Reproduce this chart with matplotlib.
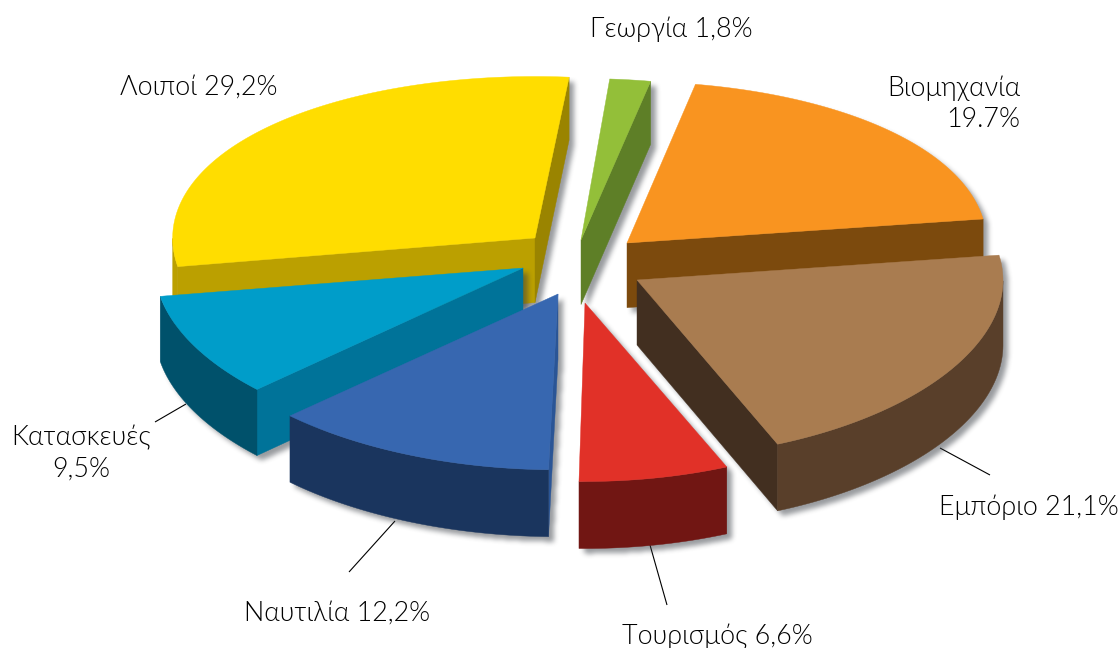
import matplotlib
matplotlib.use('Agg')
import matplotlib.pyplot as plt
from matplotlib.patches import Polygon
from matplotlib.path import Path
import numpy as np

plt.rcParams['font.family'] = ['Lato', 'Noto Sans', 'DejaVu Sans']

# order follows the pie clockwise, starting from the thin green slice
names = ['Γεωργία', 'Βιομηχανία', 'Εμπόριο', 'Τουρισμός', 'Ναυτιλία', 'Κατασκευές', 'Λοιποί']
values = [1.8, 19.7, 21.1, 6.6, 12.2, 9.5, 29.2]
label_texts = ['Γεωργία 1,8%', 'Βιομηχανία\n19.7%', 'Εμπόριο 21,1%', 'Τουρισμός 6,6%',
               'Ναυτιλία 12,2%', 'Κατασκευές\n9,5%', 'Λοιποί 29,2%']

top_colors = ['#93BF39', '#F99420', '#A97C50', '#E13128', '#3767B0', '#009DC9', '#FFDD00']
arc_colors = ['#5E7F27', '#7C4A0D', '#593F2A', '#711613', '#1A355E', '#00516B', '#BBA000']
# side colours of the cut faces: (start edge, end edge)
cut_colors = [('#5E7F27', '#5E7F27'), ('#7C4A0D', '#7C4A0D'), ('#593F2A', '#422F20'),
              ('#711613', '#711613'), ('#2A5596', '#1A355E'), ('#007399', '#00516B'),
              ('#BBA000', '#9A8400')]

# how far each slice is pulled out of the pie, in pixels
pull_x = [9, 55, 65, 13, -14, -49, -37]
pull_y = [-28, -25, 12, 35, 26, 0, -30]
# the picture is a bit off a pure projection, so slices differ slightly
slice_turn = [0, 0, -0.3, -0.5, 0, 1.0, 0.9]
slice_rx = [1, 0.983, 1, 1, 1.03, 1.005, 0.99]
slice_ry = [1, 1, 1, 1, 0.985, 1, 1]

draw_order = [6, 0, 1, 2, 5, 4, 3]

cx, cy = 572, 268
rx, ry = 366, 170
start_angle = 4.5

label_pos = [(671, 29, 'center'), (1020, 104, 'right'), (1029, 507, 'center'), (717, 636, 'center'),
             (337, 613, 'center'), (81, 453, 'center'), (199, 87, 'center')]
leaders = [((940, 448), (990, 475)), ((650, 545), (667, 605)),
           ((395, 521), (349, 572)), ((186, 404), (155, 422))]

W, H = 1120, 648
grid_x, grid_y = np.meshgrid(np.arange(W) + 0.5, np.arange(H) + 0.5)
grid = np.column_stack([grid_x.ravel(), grid_y.ravel()])


def thick(y):
    return 63 + 0.01 * (y - 80)


def arc_points(a0, a1, ox, oy, sx, sy):
    t = np.radians(np.linspace(a0, a1, max(int(abs(a1 - a0)), 2) + 1))
    u = np.sin(t)
    v = np.cos(t)
    x = ox + rx * sx * u
    y = oy - ry * sy * v * (1 - 0.05 * v)
    return np.column_stack([x, y])


def drop(pts):
    return np.column_stack([pts[:, 0], pts[:, 1] + thick(pts[:, 1])])


def blur(img, size=5, passes=3):
    kernel = np.ones(size) / size
    for _ in range(passes):
        img = np.apply_along_axis(lambda r: np.convolve(r, kernel, mode='same'), 0, img)
        img = np.apply_along_axis(lambda r: np.convolve(r, kernel, mode='same'), 1, img)
    return img


def draw_shadow(ax, polys, z):
    # soft drop shadow, lower right of the whole slice
    mask = np.zeros(W * H, dtype=bool)
    for p in polys:
        mask |= Path(p).contains_points(grid - np.array([5, 5]))
    mask = blur(mask.reshape(H, W).astype(float))
    rgba = np.zeros((H, W, 4))
    rgba[..., :3] = (0.2, 0.22, 0.25)
    rgba[..., 3] = mask * 0.5
    ax.imshow(rgba, extent=(0, W, H, 0), zorder=z, interpolation='bilinear', aspect='auto')


fig = plt.figure(figsize=(11.2, 6.48), dpi=100)
ax = fig.add_axes([0, 0, 1, 1])

angles = start_angle + np.concatenate([[0], np.cumsum(values)]) * 360 / sum(values)

for rank, i in enumerate(draw_order):
    z = 10 + rank * 2
    a0 = angles[i] + slice_turn[i]
    a1 = angles[i + 1] + slice_turn[i]
    apex = np.array([[cx + pull_x[i], cy + pull_y[i]]], dtype=float)
    arc = arc_points(a0, a1, apex[0, 0], apex[0, 1], slice_rx[i], slice_ry[i])
    top = np.vstack([apex, arc])
    faces = []

    # cut faces, only those turned towards the viewer
    start_edge = np.vstack([apex, arc[:1]])
    end_edge = np.vstack([arc[-1:], apex])
    for edge, col in [(start_edge, cut_colors[i][0]), (end_edge, cut_colors[i][1])]:
        if edge[1, 0] - edge[0, 0] > 0:
            continue
        quad = np.vstack([edge, drop(edge)[::-1]])
        faces.append(quad)
        ax.add_patch(Polygon(quad, closed=True, facecolor=col, edgecolor=col, lw=0.3, zorder=z))

    # outer rim, only the part of the arc on the viewer's side
    t = np.linspace(a0, a1, 200)
    keep = np.cos(np.radians(t)) < 0
    if keep.sum() > 1:
        rim = arc_points(t[keep][0], t[keep][-1], apex[0, 0], apex[0, 1], slice_rx[i], slice_ry[i])
        quad = np.vstack([rim, drop(rim)[::-1]])
        faces.append(quad)
        ax.add_patch(Polygon(quad, closed=True, facecolor=arc_colors[i], edgecolor=arc_colors[i],
                             lw=0.3, zorder=z))

    ax.add_patch(Polygon(top, closed=True, facecolor=top_colors[i], edgecolor=top_colors[i],
                         lw=0.3, zorder=z + 1))
    draw_shadow(ax, faces + [top], z - 0.5)

for a, b in leaders:
    ax.plot([a[0], b[0]], [a[1], b[1]], color='black', lw=0.8, zorder=5, solid_capstyle='butt')

for txt, (x, y, ha) in zip(label_texts, label_pos):
    ax.text(x, y, txt, ha=ha, va='center', fontsize=19.4, fontweight=300, color='#000000',
            linespacing=1.3, zorder=40)

ax.set_xlim(0, W)
ax.set_ylim(H, 0)
ax.axis('off')

fig.savefig('out.png', dpi=100)
